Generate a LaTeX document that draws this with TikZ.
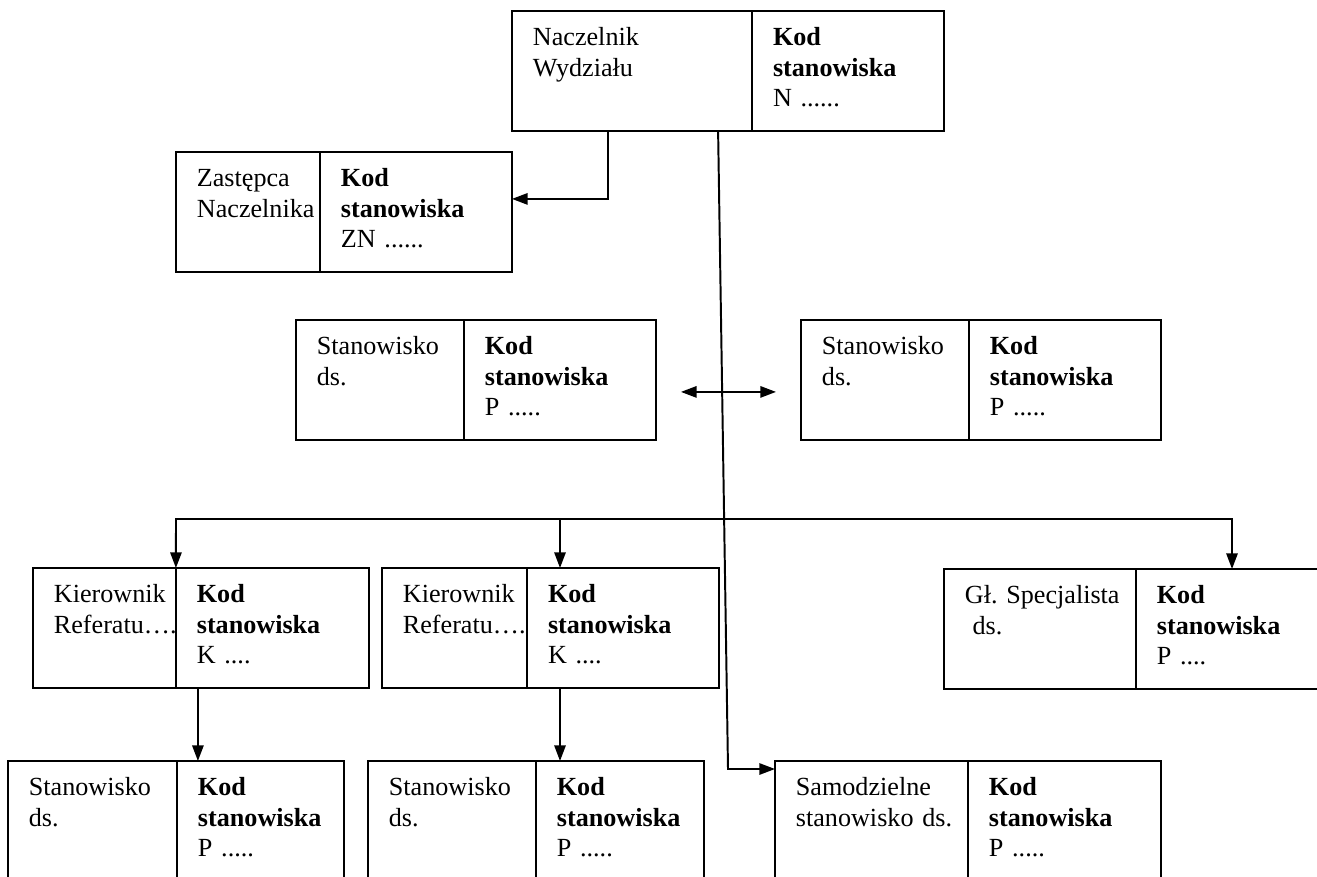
\documentclass[tikz,border=0pt]{standalone}
\usepackage{fontspec}
\setmainfont{Liberation Serif}
\usetikzlibrary{positioning,calc,arrows.meta}
\hyphenpenalty=10000
\frenchspacing

\begin{document}
\begin{tikzpicture}[
    x=0.459pt, y=-0.459pt,
    cell/.style={rectangle, draw, line width=1.1pt, outer sep=0pt, anchor=north west,
        align=left, inner xsep=9.6pt, inner ysep=7.5pt,
        text height=8.5pt, text depth=31.5pt,
        font=\fontsize{12}{14}\selectfont},
    tytul/.style={cell, text width=#1},
    kod/.style={cell, text width=#1},
    link/.style={line width=0.9pt, -{Triangle[length=7.2pt,width=5.2pt]}},
    dwustr/.style={line width=0.9pt, {Triangle[length=7.2pt,width=5.2pt]}-{Triangle[length=7.2pt,width=5.2pt]}}
]
\useasboundingbox (0,0) rectangle (1317,876);
\clip (0,0) rectangle (1317,876);

\node[tytul=91pt] (naczL) at (512,11) {Naczelnik\\Wydziału};
\node[kod=68.9pt, right=0pt of naczL] (naczK) {\textbf{Kod}\\\textbf{stanowiska}\\N ......};

\node[tytul=46.9pt] (zastL) at (176,152) {Zastępca\\Naczelnika};
\node[kod=68.9pt, right=0pt of zastL] (zastK) {\textbf{Kod}\\\textbf{stanowiska}\\ZN ......};

\node[tytul=57.9pt] (stanAL) at (296,320) {Stanowisko\\ds.};
\node[kod=68.9pt, right=0pt of stanAL] (stanAK) {\textbf{Kod}\\\textbf{stanowiska}\\P .....};

\node[tytul=57.9pt] (stanBL) at (801,320) {Stanowisko\\ds.};
\node[kod=68.9pt, right=0pt of stanBL] (stanBK) {\textbf{Kod}\\\textbf{stanowiska}\\P .....};

\node[tytul=46.4pt] (kier1L) at (33,568) {Kierownik\\Referatu….};
\node[kod=69.4pt, right=0pt of kier1L] (kier1K) {\textbf{Kod}\\\textbf{stanowiska}\\K ....};

\node[tytul=47.4pt] (kier2L) at (382,568) {Kierownik\\Referatu….};
\node[kod=68.9pt, right=0pt of kier2L] (kier2K) {\textbf{Kod}\\\textbf{stanowiska}\\K ....};

\node[tytul=68.9pt] (glL) at (944,569) {Gł.~Specjalista\\\hspace*{3.5pt}ds.};
\node[kod=68.9pt, right=0pt of glL] (glK) {\textbf{Kod}\\\textbf{stanowiska}\\P ....};

\node[tytul=58.4pt] (stan1L) at (8,761) {Stanowisko\\ds.};
\node[kod=57.5pt, right=0pt of stan1L] (stan1K) {\textbf{Kod}\\\textbf{stanowiska}\\P .....};

\node[tytul=57.9pt] (stan2L) at (368,761) {Stanowisko\\ds.};
\node[kod=57.9pt, right=0pt of stan2L] (stan2K) {\textbf{Kod}\\\textbf{stanowiska}\\P .....};

\node[tytul=69.4pt] (samL) at (775,761) {Samodzielne\\stanowisko~ds.};
\node[kod=69.4pt, right=0pt of samL] (samK) {\textbf{Kod}\\\textbf{stanowiska}\\P .....};

% polaczenia
\coordinate (zakret) at (728,769);
\coordinate (szynaL) at (176,519);
\coordinate (szynaS) at (560,519);
\coordinate (szynaP) at (1232,519);

\draw[link] ($(naczL.south west)+(96,0)$) |- ($(zastK.east)+(0,-13)$);
\draw[link] ($(naczL.south east)+(-34,0)$) -- (zakret) -- ($(samL.north west)+(0,8)$);
\draw[dwustr] ($(stanAK.east)+(25,12)$) -- ($(stanBL.west)+(-25,12)$);

\draw[link] (szynaS) -- (szynaL) -- (kier1K.north west);
\draw[link] (szynaS) -- (szynaP) -- (szynaP |- glK.north);
\draw[link] (szynaS) -- (szynaS |- kier2K.north);

\draw[link] ($(kier1K.south west)+(22,0)$) coordinate (k1) -- (k1 |- stan1K.north);
\draw[link] (szynaS |- kier2K.south) -- (szynaS |- stan2K.north);
\end{tikzpicture}
\end{document}
